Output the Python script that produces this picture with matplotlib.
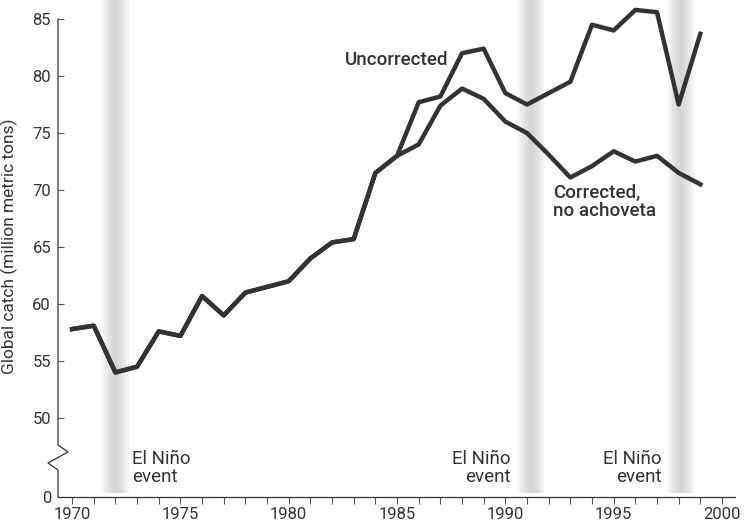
import matplotlib
matplotlib.use("Agg")
import matplotlib.pyplot as plt
import numpy as np

plt.rcParams["font.family"] = ["Roboto", "DejaVu Sans"]

years = list(range(1970, 2000))
# shared record up to 1985, then the two series split
uncorrected = [57.8, 58.1, 54.0, 54.5, 57.6, 57.2, 60.7, 59.0, 61.0, 61.5,
               62.0, 64.0, 65.4, 65.7, 71.5, 73.0, 77.7, 78.2, 82.0, 82.4,
               78.5, 77.5, 78.5, 79.5, 84.5, 84.0, 85.8, 85.6, 77.5, 83.7]
corrected = [57.8, 58.1, 54.0, 54.5, 57.6, 57.2, 60.7, 59.0, 61.0, 61.5,
             62.0, 64.0, 65.4, 65.7, 71.5, 73.0, 74.0, 77.4, 78.9, 78.0,
             76.0, 75.0, 73.1, 71.1, 72.1, 73.4, 72.5, 73.0, 71.5, 70.5]
el_nino_years = [1972.0, 1991.2, 1998.1]

y_ticks = [50, 55, 60, 65, 70, 75, 80, 85]
y_zero = 43.07   # where "0" sits below the axis break
y_top = 86.67
ink = "#333333"

fig = plt.figure(figsize=(7.5, 5.25), dpi=100)
ax = fig.add_axes([58 / 750, 28 / 525, 677 / 750, 497 / 525])
ax.set_xlim(1969.35, 2000.6)
ax.set_ylim(y_zero, y_top)

# blurred grey bands for El Nino years
for yr in el_nino_years:
    for w in np.linspace(0.08, 0.65, 14):
        ax.axvspan(yr - w, yr + w, ymin=0.008, ymax=1, color="#bcbcbc",
                   alpha=0.055, lw=0, zorder=0)

ax.plot(years, uncorrected, color=ink, lw=3.2, zorder=3)
ax.plot(years, corrected, color=ink, lw=3.2, zorder=3)

for s in ["top", "right", "left"]:
    ax.spines[s].set_visible(False)
ax.spines["bottom"].set_color(ink)
ax.spines["bottom"].set_linewidth(0.9)

# left spine with a zigzag break between 50 and 0 (axes coords)
h = 497
xs = [0, 0, 10 / 677, -10 / 677, 0, 0]
ys = [(85 - y_zero) / (y_top - y_zero), (h - 445) / h, (h - 452) / h,
      (h - 463) / h, (h - 470) / h, 0]
ax.plot(xs, ys, transform=ax.transAxes, color=ink, lw=0.9, clip_on=False)

ax.set_xticks(range(1970, 2001))
ax.set_xticklabels([str(y) if y % 5 == 0 else "" for y in range(1970, 2001)],
                   fontsize=12, color=ink)
ax.tick_params(axis="x", direction="out", length=5, width=0.8, color="#555555", pad=2)

ax.set_yticks([y_zero] + y_ticks)
ax.set_yticklabels(["0"] + [str(v) for v in y_ticks], fontsize=12, color=ink)
ax.tick_params(axis="y", direction="in", length=4, width=0.8, color="#555555", pad=5)

ax.set_ylabel("Global catch (million metric tons)", fontsize=12.5, color=ink)
ax.yaxis.set_label_coords(-40 / 677, 0.505)

lbl = dict(fontsize=13.5, color=ink, va="center")
ax.text(1982.6, 81.4, "Uncorrected", fontweight="medium", ha="left", **lbl)
ax.text(1992.2, 68.95, "Corrected,\nno achoveta", fontweight="medium",
        ha="left", linespacing=1.0, **lbl)

ax.text(1972.77, 45.6, "El Niño\nevent", ha="left", linespacing=1.0, **lbl)
ax.text(1990.23, 45.6, "El Niño\nevent", ha="right", linespacing=1.0,
        multialignment="right", **lbl)
ax.text(1997.2, 45.6, "El Niño\nevent", ha="right", linespacing=1.0,
        multialignment="right", **lbl)

fig.savefig("out.png", dpi=100)
